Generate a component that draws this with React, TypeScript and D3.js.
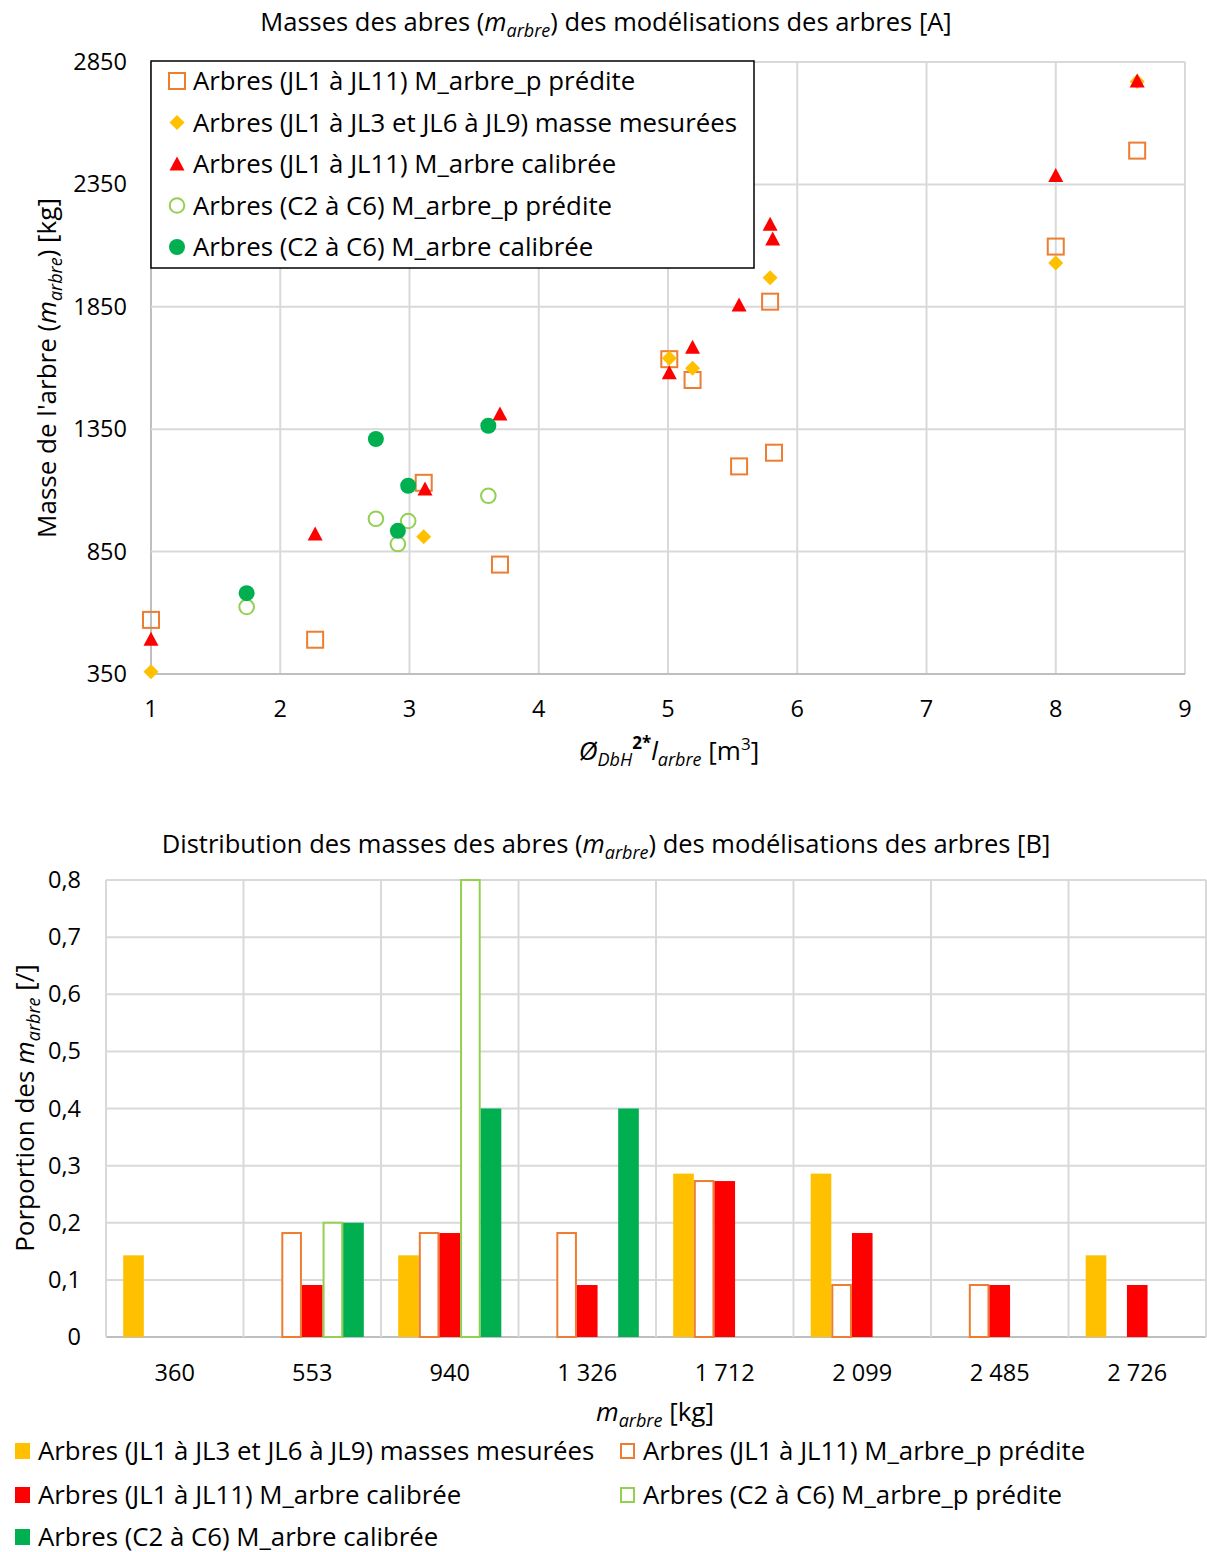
import React from "react";
import * as d3 from "d3";

// ---------- Chart A data ----------
const xTicksA = [1, 2, 3, 4, 5, 6, 7, 8, 9];
const yTicksA = [350, 850, 1350, 1850, 2350, 2850];

const xJLp = [1.0, 2.27, 3.11, 3.7, 5.01, 5.19, 5.55, 5.82, 5.79, 8.0, 8.63];
const mJLp = [571, 490, 1131, 797, 1636, 1551, 1198, 1254, 1871, 2096, 2488];
const xMes = [1.0, 3.11, 5.01, 5.19, 5.79, 8.0, 8.63];
const mMes = [359, 911, 1640, 1599, 1969, 2029, 2770];
const xJLc = [1.0, 2.27, 3.12, 3.7, 5.01, 5.19, 5.55, 5.81, 5.79, 8.0, 8.63];
const mJLc = [492, 922, 1106, 1412, 1581, 1685, 1857, 2127, 2187, 2386, 2772];
const xC = [1.74, 2.74, 2.91, 2.99, 3.61];
const mCp = [624, 984, 881, 975, 1078];
const mCc = [680, 1310, 935, 1119, 1364];

const legendA = [
  "Arbres (JL1 à JL11) M_arbre_p prédite",
  "Arbres (JL1 à JL3 et JL6 à JL9) masse mesurées",
  "Arbres (JL1 à JL11) M_arbre calibrée",
  "Arbres (C2 à C6) M_arbre_p prédite",
  "Arbres (C2 à C6) M_arbre calibrée",
];

// ---------- Chart B data ----------
const binLabels = ["360", "553", "940", "1 326", "1 712", "2 099", "2 485", "2 726"];
const yTicksB = [0, 0.1, 0.2, 0.3, 0.4, 0.5, 0.6, 0.7, 0.8];
const pMes = [0.143, 0, 0.143, 0, 0.286, 0.286, 0, 0.143];
const pJLp = [0, 0.182, 0.182, 0.182, 0.273, 0.091, 0.091, 0];
const pJLc = [0, 0.091, 0.182, 0.091, 0.273, 0.182, 0.091, 0.091];
const pCp = [0, 0.2, 0.8, 0, 0, 0, 0, 0];
const pCc = [0, 0.2, 0.4, 0.4, 0, 0, 0, 0];

const legendB = [
  "Arbres (JL1 à JL3 et JL6 à JL9) masses mesurées",
  "Arbres (JL1 à JL11) M_arbre_p prédite",
  "Arbres (JL1 à JL11) M_arbre calibrée",
  "Arbres (C2 à C6) M_arbre_p prédite",
  "Arbres (C2 à C6) M_arbre calibrée",
];

const ORANGE = "#ED7D31";
const YELLOW = "#FFC000";
const RED = "#FF0000";
const LGREEN = "#92D050";
const GREEN = "#00B050";
const GRID = "#D9D9D9";
const AXIS = "#BFBFBF";
const FONT = "'Open Sans', sans-serif";

type Kind = "sq" | "dia" | "tri" | "ocirc" | "circ";

function Marker({ kind, x, y }: { kind: Kind; x: number; y: number }) {
  if (kind === "sq")
    return <rect x={x - 8} y={y - 8} width={16} height={16} fill="none" stroke={ORANGE} strokeWidth={2} />;
  if (kind === "dia")
    return <path d={`M${x},${y - 7.5}L${x + 7.5},${y}L${x},${y + 7.5}L${x - 7.5},${y}Z`} fill={YELLOW} />;
  if (kind === "tri")
    return <path d={`M${x},${y - 7.5}L${x + 7.5},${y + 6.5}L${x - 7.5},${y + 6.5}Z`} fill={RED} />;
  if (kind === "ocirc")
    return <circle cx={x} cy={y} r={7.3} fill="none" stroke={LGREEN} strokeWidth={2} />;
  return <circle cx={x} cy={y} r={8} fill={GREEN} />;
}

export default function App() {
  // ----- Chart A scales -----
  const xA = d3.scaleLinear().domain([1, 9]).range([151, 1185]);
  const yA = d3.scaleLinear().domain([350, 2850]).range([674, 62]);

  const seriesA: { kind: Kind; xs: number[]; ys: number[] }[] = [
    { kind: "sq", xs: xJLp, ys: mJLp },
    { kind: "dia", xs: xMes, ys: mMes },
    { kind: "tri", xs: xJLc, ys: mJLc },
    { kind: "ocirc", xs: xC, ys: mCp },
    { kind: "circ", xs: xC, ys: mCc },
  ];
  const kinds: Kind[] = ["sq", "dia", "tri", "ocirc", "circ"];

  // ----- Chart B scales -----
  const xB = d3.scaleBand<string>().domain(binLabels).range([106, 1206]).paddingInner(0.25).paddingOuter(0.125);
  const seriesNames = ["mes", "jlp", "jlc", "cp", "cc"];
  const xInner = d3.scaleBand<string>().domain(seriesNames).range([0, xB.bandwidth()]);
  const yB = d3.scaleLinear().domain([0, 0.8]).range([1337, 880]);
  const step = xB.step();
  const seriesB = [
    { key: "mes", vals: pMes, fill: YELLOW, stroke: "none" },
    { key: "jlp", vals: pJLp, fill: "#FFFFFF", stroke: ORANGE },
    { key: "jlc", vals: pJLc, fill: RED, stroke: "none" },
    { key: "cp", vals: pCp, fill: "#FFFFFF", stroke: LGREEN },
    { key: "cc", vals: pCc, fill: GREEN, stroke: "none" },
  ];
  const legendBColors = [
    { fill: YELLOW, stroke: "none" },
    { fill: "#FFFFFF", stroke: ORANGE },
    { fill: RED, stroke: "none" },
    { fill: "#FFFFFF", stroke: LGREEN },
    { fill: GREEN, stroke: "none" },
  ];
  const legendBPos = [
    { x: 15, y: 1451 },
    { x: 620, y: 1451 },
    { x: 15, y: 1495 },
    { x: 620, y: 1495 },
    { x: 15, y: 1537 },
  ];

  return (
    <svg
      width={1207}
      height={1552}
      style={{ position: "absolute", left: 0, top: 0, background: "#fff" }}
      fontFamily={FONT}
    >
      <rect x={0} y={0} width={1207} height={1552} fill="#fff" />
      {/* ================= Chart A ================= */}
      <text x={606} y={31} textAnchor="middle" fontSize={25.5} fill="#000">
        Masses des abres (<tspan fontStyle="italic">m</tspan>
        <tspan fontStyle="italic" fontSize={18} dy={6}>arbre</tspan>
        <tspan dy={-6}>) des modélisations des arbres [A]</tspan>
      </text>

      {/* grid */}
      {xTicksA.map((t) => (
        <line key={"gx" + t} x1={xA(t)} x2={xA(t)} y1={62} y2={674} stroke={t === 1 ? AXIS : GRID} strokeWidth={2} />
      ))}
      {yTicksA.map((t) => (
        <line key={"gy" + t} x1={151} x2={1185} y1={yA(t)} y2={yA(t)} stroke={t === 350 ? AXIS : GRID} strokeWidth={2} />
      ))}
      {yTicksA.map((t) => (
        <text key={"ty" + t} x={127} y={yA(t) + 8} textAnchor="end" fontSize={23.5} fill="#000">
          {t}
        </text>
      ))}
      {xTicksA.map((t) => (
        <text key={"tx" + t} x={xA(t)} y={717} textAnchor="middle" fontSize={23.5} fill="#000">
          {t}
        </text>
      ))}

      {/* axis titles */}
      <text x={669} y={760} textAnchor="middle" fontSize={26} fill="#000">
        <tspan fontStyle="italic">Ø</tspan>
        <tspan fontStyle="italic" fontSize={18} dy={6}>DbH</tspan>
        <tspan fontWeight="bold" fontSize={17} dy={-17}>2*</tspan>
        <tspan fontStyle="italic" dy={11}>l</tspan>
        <tspan fontStyle="italic" fontSize={18} dy={6}>arbre</tspan>
        <tspan dy={-6}> [m</tspan>
        <tspan fontSize={17} dy={-10}>3</tspan>
        <tspan dy={10}>]</tspan>
      </text>
      <text transform="translate(56,368) rotate(-90)" textAnchor="middle" fontSize={26} fill="#000">
        Masse de l'arbre (<tspan fontStyle="italic">m</tspan>
        <tspan fontStyle="italic" fontSize={18} dy={6}>arbre</tspan>
        <tspan dy={-6}>) [kg]</tspan>
      </text>

      {/* points */}
      {seriesA.map((s, si) => (
        <g key={"s" + si}>
          {s.xs.map((xv, i) => (
            <Marker key={i} kind={s.kind} x={xA(xv)} y={yA(s.ys[i])} />
          ))}
        </g>
      ))}

      {/* legend A */}
      <rect x={151} y={61} width={603} height={207} fill="#fff" stroke="#000" strokeWidth={1.5} />
      {legendA.map((t, i) => {
        const cy = 81 + i * 41.5;
        return (
          <g key={"la" + i}>
            <Marker kind={kinds[i]} x={177} y={cy} />
            <text x={193} y={cy + 9} fontSize={25.8} fill="#000">
              {t}
            </text>
          </g>
        );
      })}

      {/* ================= Chart B ================= */}
      <text x={606} y={853} textAnchor="middle" fontSize={25.5} fill="#000">
        Distribution des masses des abres (<tspan fontStyle="italic">m</tspan>
        <tspan fontStyle="italic" fontSize={18} dy={6}>arbre</tspan>
        <tspan dy={-6}>) des modélisations des arbres [B]</tspan>
      </text>

      {yTicksB.map((t) => (
        <line key={"gyb" + t} x1={106} x2={1206} y1={yB(t)} y2={yB(t)} stroke={t === 0 ? AXIS : GRID} strokeWidth={2} />
      ))}
      {d3.range(binLabels.length + 1).map((i) => (
        <line key={"gxb" + i} x1={106 + i * step} x2={106 + i * step} y1={880} y2={1337} stroke={GRID} strokeWidth={2} />
      ))}
      {yTicksB.map((t) => (
        <text key={"tyb" + t} x={81} y={yB(t) + 8} textAnchor="end" fontSize={23.5} fill="#000">
          {t === 0 ? "0" : d3.format(".1f")(t).replace(".", ",")}
        </text>
      ))}
      {binLabels.map((b) => (
        <text key={"txb" + b} x={(xB(b) as number) + xB.bandwidth() / 2} y={1381} textAnchor="middle" fontSize={23.5} fill="#000">
          {b}
        </text>
      ))}

      {/* bars */}
      {seriesB.map((s) => (
        <g key={s.key}>
          {s.vals.map((v, i) =>
            v > 0 ? (
              <rect
                key={i}
                x={(xB(binLabels[i]) as number) + (xInner(s.key) as number) + (s.stroke !== "none" ? 1 : 0)}
                y={yB(v)}
                width={xInner.bandwidth() - (s.stroke !== "none" ? 2 : 0)}
                height={yB(0) - yB(v)}
                fill={s.fill}
                stroke={s.stroke}
                strokeWidth={2}
              />
            ) : null
          )}
        </g>
      ))}

      {/* axis titles B */}
      <text x={655} y={1421} textAnchor="middle" fontSize={26} fill="#000">
        <tspan fontStyle="italic">m</tspan>
        <tspan fontStyle="italic" fontSize={18} dy={6}>arbre</tspan>
        <tspan dy={-6}> [kg]</tspan>
      </text>
      <text transform="translate(34,1108) rotate(-90)" textAnchor="middle" fontSize={26} fill="#000">
        Porportion des <tspan fontStyle="italic">m</tspan>
        <tspan fontStyle="italic" fontSize={18} dy={6}>arbre</tspan>
        <tspan dy={-6}> [/]</tspan>
      </text>

      {/* legend B */}
      {legendB.map((t, i) => {
        const p = legendBPos[i];
        const c = legendBColors[i];
        return (
          <g key={"lb" + i}>
            <rect
              x={p.x + (c.stroke !== "none" ? 1 : 0)}
              y={p.y - 8 + (c.stroke !== "none" ? 1 : 0)}
              width={c.stroke !== "none" ? 13 : 15}
              height={c.stroke !== "none" ? 14 : 16}
              fill={c.fill}
              stroke={c.stroke}
              strokeWidth={2}
            />
            <text x={p.x + 23} y={p.y + 8.5} fontSize={25.8} fill="#000">
              {t}
            </text>
          </g>
        );
      })}
    </svg>
  );
}
